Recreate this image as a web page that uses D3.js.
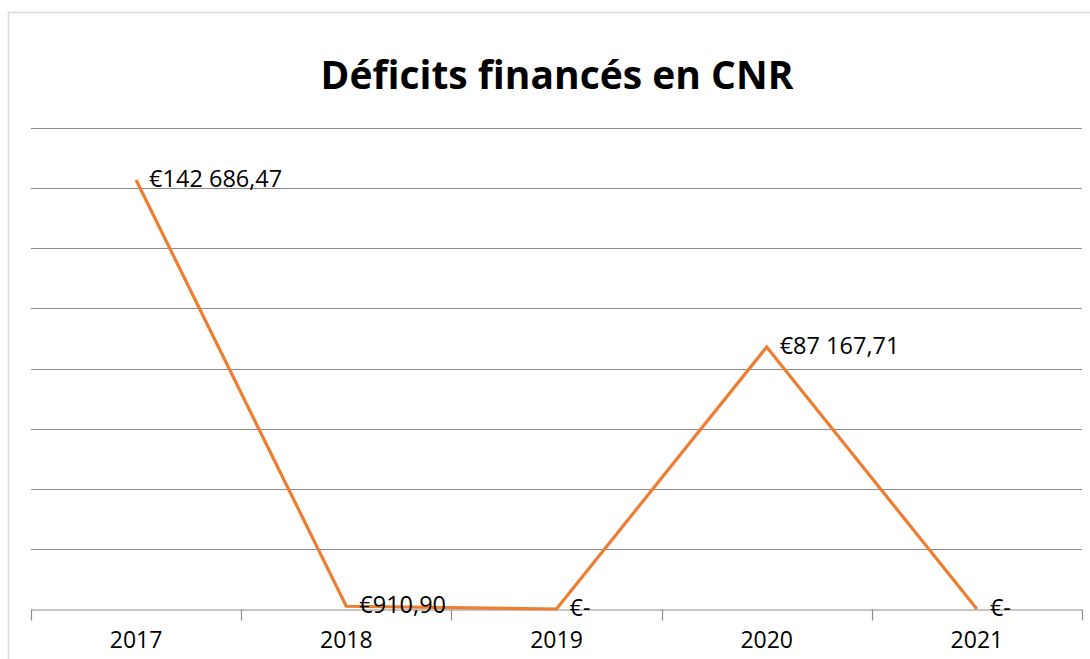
<!DOCTYPE html>
<html>
<head>
<meta charset="utf-8">
<script src="https://cdn.jsdelivr.net/npm/d3@7"></script>
<style>
body { margin: 0; background: #fff; }
text { font-family: "Open Sans", "Noto Sans", sans-serif; fill: #000; }
</style>
</head>
<body>
<script>
// Data
var years = ["2017", "2018", "2019", "2020", "2021"];
var values = [142686.47, 910.90, 0, 87167.71, 0];
var labels = ["€142 686,47", "€910,90", "€-", "€87 167,71", "€-"];
var yTicks = [0, 20000, 40000, 60000, 80000, 100000, 120000, 140000, 160000];

var w = 1090;
var h = 659;

var svg = d3.select("body")
    .append("svg")
    .attr("width", w)
    .attr("height", h);

// chart border
svg.append("rect")
    .attr("x", 8.5).attr("y", 12.5)
    .attr("width", 1100).attr("height", 700)
    .attr("fill", "none")
    .attr("stroke", "#d9d9d9")
    .attr("stroke-width", 1.5);

// Scales
var xScale = d3.scaleBand()
    .domain(years)
    .range([31, 1082]);

var yScale = d3.scaleLinear()
    .domain([0, 160000])
    .range([609, 128]);

// Gridlines
svg.append("g")
    .selectAll("line")
    .data(yTicks.slice(1))
    .enter()
    .append("line")
    .attr("x1", 31)
    .attr("x2", 1082)
    .attr("y1", function(d) { return Math.round(yScale(d)) + 0.5; })
    .attr("y2", function(d) { return Math.round(yScale(d)) + 0.5; })
    .attr("stroke", "#8c8c8c")
    .attr("stroke-width", 1.2);

// X axis
var xAxis = d3.axisBottom(xScale).tickSize(0).tickPadding(22);
var gx = svg.append("g")
    .attr("transform", "translate(0," + (Math.round(yScale(0)) + 0.5) + ")")
    .call(xAxis);
gx.select(".domain").attr("stroke", "#8c8c8c").attr("stroke-width", 1.2);
gx.selectAll("text").style("font-size", "23px");

// tick marks at band boundaries
var bounds = years.map(function(d) { return xScale(d); }).concat([xScale.range()[1]]);
gx.selectAll(".bound")
    .data(bounds)
    .enter()
    .append("line")
    .attr("class", "bound")
    .attr("x1", function(d) { return Math.round(d) + 0.5; })
    .attr("x2", function(d) { return Math.round(d) + 0.5; })
    .attr("y1", 0)
    .attr("y2", 11)
    .attr("stroke", "#8c8c8c")
    .attr("stroke-width", 1.2);

// Line
var line = d3.line()
    .x(function(d, i) { return xScale(years[i]) + xScale.bandwidth() / 2; })
    .y(function(d) { return yScale(d); });

svg.append("path")
    .datum(values)
    .attr("d", line)
    .attr("fill", "none")
    .attr("stroke", "#ED7D31")
    .attr("stroke-width", 3.2);

// Data labels
svg.append("g")
    .selectAll("text")
    .data(values)
    .enter()
    .append("text")
    .attr("x", function(d, i) { return xScale(years[i]) + xScale.bandwidth() / 2 + 13; })
    .attr("y", function(d) { return yScale(d); })
    .attr("dy", "0.3em")
    .style("font-size", "23.5px")
    .text(function(d, i) { return labels[i]; });

// Title
svg.append("text")
    .attr("x", 557)
    .attr("y", 89)
    .attr("text-anchor", "middle")
    .style("font-size", "39px")
    .style("font-weight", "bold")
    .text("Déficits financés en CNR");
</script>
</body>
</html>
